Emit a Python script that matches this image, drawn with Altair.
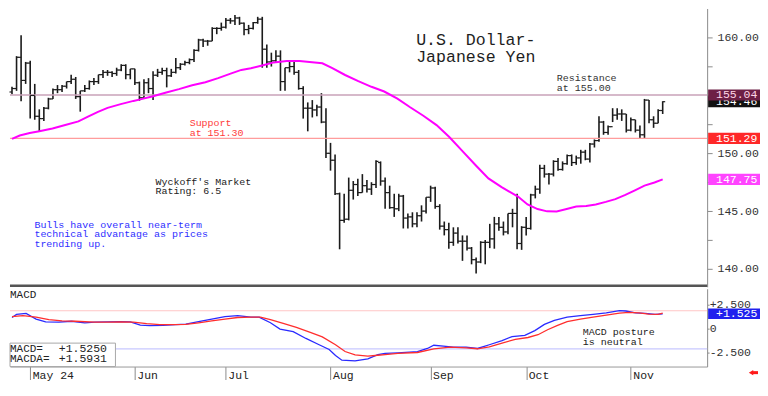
import altair as alt
import pandas as pd

# ---------------- data ----------------
# daily bars, one per trading day (index 0 = Apr 25, 2024 ... 143 = Nov 12, 2024)
opens = [155.3, 155.6, 158.3, 156.3, 157.8, 155.0, 153.2, 153.0, 153.9, 154.7,
         155.5, 155.5, 155.8, 156.2, 156.4, 154.9, 155.4, 155.6, 156.2, 156.2,
         156.8, 157.0, 157.0, 156.9, 157.2, 157.6, 156.8, 157.3, 156.1, 154.8,
         156.1, 155.6, 156.75, 157.0, 157.15, 156.7, 157.0, 157.4, 157.7, 157.85,
         158.1, 158.9, 159.8, 159.7, 159.7, 160.8, 160.8, 160.9, 161.5, 161.45,
         161.7, 161.25, 160.7, 160.8, 161.3, 161.6, 159.0, 157.9, 158.0, 158.4,
         156.2, 157.4, 157.5, 157.0, 155.6, 153.9, 153.9, 153.75, 154.0, 152.7,
         150.0, 149.4, 146.5, 144.2, 144.3, 146.8, 147.3, 146.6, 147.2, 146.9,
         147.3, 149.2, 147.6, 146.6, 145.3, 145.2, 146.3, 144.4, 144.5, 143.9,
         144.6, 145.0, 146.2, 147.0, 145.4, 143.7, 143.4, 142.3, 143.1, 142.4,
         142.4, 141.8, 140.8, 140.6, 142.3, 142.3, 142.6, 143.9, 143.6, 143.2,
         144.8, 144.8, 142.2, 143.6, 143.5, 146.4, 146.9, 148.7, 148.2, 148.2,
         149.3, 148.6, 149.1, 149.8, 149.2, 149.6, 150.1, 149.5, 150.8, 151.1,
         152.7, 151.8, 152.3, 153.3, 153.4, 153.4, 152.0, 152.9, 152.0, 151.6,
         154.6, 152.9, 152.6, 153.7]
highs = [155.75, 158.4, 160.2, 157.9, 158.0, 156.0, 153.8, 154.0, 154.8, 155.6,
         155.9, 155.9, 156.2, 156.8, 156.6, 155.4, 155.9, 156.3, 156.5, 156.8,
         157.2, 157.2, 157.1, 157.4, 157.7, 157.7, 157.3, 157.3, 156.2, 156.4,
         156.5, 157.1, 157.3, 157.4, 157.4, 157.3, 158.25, 157.8, 158.0, 158.2,
         159.0, 159.9, 159.9, 159.8, 160.9, 160.9, 161.3, 161.7, 161.7, 161.95,
         161.8, 161.3, 161.1, 161.35, 161.8, 161.8, 159.4, 158.7, 158.9, 158.9,
         157.4, 157.9, 157.9, 157.2, 155.8, 154.4, 154.6, 154.2, 155.2, 153.9,
         150.9, 149.9, 146.6, 146.5, 147.9, 147.6, 147.8, 148.2, 147.7, 147.5,
         149.4, 149.3, 147.9, 147.2, 146.5, 146.5, 146.4, 144.8, 144.9, 144.9,
         145.5, 146.2, 147.2, 147.1, 145.6, 144.1, 144.0, 143.6, 143.6, 142.9,
         142.9, 141.9, 141.0, 142.4, 142.5, 143.9, 144.5, 144.5, 144.1, 144.8,
         145.2, 146.5, 143.7, 144.5, 146.5, 147.2, 149.0, 149.0, 148.3, 149.4,
         149.6, 149.3, 149.9, 149.9, 149.8, 150.3, 150.3, 150.9, 151.2, 153.2,
         152.8, 152.4, 153.9, 153.9, 153.8, 153.4, 153.1, 152.9, 152.4, 154.7,
         154.6, 153.2, 153.8, 154.5]
lows = [155.1, 155.4, 154.5, 156.0, 153.0, 152.9, 151.9, 152.8, 153.8, 154.7,
        155.2, 155.3, 155.6, 156.0, 154.7, 153.6, 155.3, 155.5, 155.9, 156.0,
        156.5, 156.7, 156.6, 156.7, 157.1, 156.4, 156.4, 155.9, 154.55, 154.8,
        155.2, 154.6, 156.6, 156.8, 155.7, 156.6, 156.9, 157.2, 157.6, 157.7,
        157.9, 158.8, 159.2, 159.3, 159.7, 160.3, 160.6, 160.8, 161.2, 161.1,
        161.1, 160.2, 160.3, 160.7, 161.2, 157.4, 157.4, 157.5, 157.9, 155.4,
        155.4, 157.0, 156.8, 155.5, 153.0, 151.9, 153.1, 153.2, 152.6, 149.6,
        148.5, 146.4, 141.7, 144.0, 144.2, 146.0, 146.3, 146.6, 146.6, 146.4,
        147.0, 147.2, 145.2, 145.2, 144.5, 145.0, 143.5, 143.5, 143.6, 143.6,
        144.1, 144.8, 145.8, 145.2, 143.4, 142.9, 141.75, 142.0, 142.2, 140.7,
        141.6, 140.4, 139.6, 140.5, 140.4, 141.8, 141.75, 143.3, 142.9, 143.0,
        143.6, 141.7, 141.65, 142.9, 143.4, 146.1, 146.5, 147.9, 147.3, 148.0,
        148.5, 148.5, 149.0, 148.9, 149.0, 149.1, 149.4, 149.2, 150.5, 151.0,
        151.6, 151.6, 152.7, 152.9, 152.8, 151.8, 151.9, 151.8, 151.3, 151.3,
        152.6, 152.2, 152.6, 153.4]
closes = [155.6, 158.3, 156.3, 157.8, 155.0, 153.2, 153.0, 153.9, 154.7, 155.5,
          155.5, 155.8, 156.2, 156.4, 154.9, 155.4, 155.6, 156.2, 156.2, 156.8,
          157.0, 157.0, 156.9, 157.2, 157.6, 156.8, 157.3, 156.1, 154.8, 156.1,
          155.6, 156.75, 157.0, 157.15, 156.7, 157.0, 157.4, 157.7, 157.85, 158.1,
          158.9, 159.8, 159.7, 159.7, 160.8, 160.8, 160.9, 161.5, 161.45, 161.7,
          161.25, 160.7, 160.8, 161.3, 161.6, 159.0, 157.9, 158.0, 158.4, 156.2,
          157.4, 157.5, 157.0, 155.6, 153.9, 153.9, 153.75, 154.0, 152.7, 150.0,
          149.4, 146.5, 144.2, 144.3, 146.8, 147.3, 146.6, 147.2, 146.9, 147.3,
          149.3, 147.6, 146.6, 145.3, 145.2, 146.3, 144.4, 144.5, 143.9, 144.6,
          145.0, 146.2, 147.0, 145.4, 143.7, 143.4, 142.3, 143.1, 142.4, 142.4,
          141.8, 140.8, 140.6, 142.3, 142.3, 142.6, 143.9, 143.6, 143.2, 144.8,
          144.8, 142.2, 143.6, 143.5, 146.4, 146.9, 148.7, 148.2, 148.2, 149.3,
          148.6, 149.1, 149.8, 149.2, 149.6, 150.1, 149.5, 150.8, 151.1, 152.7,
          151.8, 152.3, 153.3, 153.4, 153.4, 152.0, 152.9, 152.0, 151.6, 154.6,
          152.9, 152.6, 153.7, 154.46]

# moving average (magenta), read at points along the curve
ma_idx = [0, 1.7, 3.9, 6.0, 8.9, 11.7, 14.6, 16.7, 18.9, 21.0, 23.9, 26.7, 28.2, 31.0,
          33.9, 36.7, 39.6, 42.5, 45.3, 48.2, 50.4, 52.5, 55.4, 57.5, 60.4, 63.2, 65.4,
          68.2, 70.4, 73.2, 76.1, 79.0, 81.8, 84.7, 87.5, 90.4, 93.3, 96.1, 99.0, 101.9,
          104.7, 107.6, 109.0, 111.2, 113.3, 115.5, 117.6, 119.7, 121.9, 124.0, 126.2,
          128.3, 130.5, 132.6, 134.8, 136.9, 139.0, 141.2, 143.0]
ma_val = [151.25, 151.54, 151.76, 151.9, 152.14, 152.44, 152.76, 153.17, 153.58, 153.93,
          154.25, 154.53, 154.66, 154.93, 155.26, 155.55, 155.88, 156.15, 156.5, 156.91,
          157.21, 157.35, 157.64, 157.86, 157.97, 157.97, 157.9, 157.78, 157.37, 156.77,
          156.24, 155.75, 155.34, 154.72, 153.98, 153.25, 152.44, 151.41, 150.19, 148.97,
          147.83, 147.07, 146.75, 146.26, 145.58, 145.18, 144.98, 144.96, 145.18, 145.39,
          145.45, 145.58, 145.8, 146.04, 146.4, 146.8, 147.21, 147.48, 147.75]

# MACD (blue) and MACDA / signal (red)
macd_idx = [0, 1.0, 3.1, 5.3, 7.4, 10.3, 13.1, 16.0, 18.2, 21.0, 23.9, 26.0, 28.2, 30.3,
            33.2, 36.0, 38.2, 41.0, 43.9, 46.8, 49.6, 52.5, 54.3, 56.8, 58.9, 61.8, 64.6,
            67.5, 69.7, 71.1, 72.5, 75.4, 78.2, 80.4, 82.0, 84.8, 89.1, 91.3, 92.7, 94.8,
            97.0, 99.8, 102.3, 104.9, 107.7, 109.9, 112.7, 114.9, 117.0, 119.2, 122.0,
            124.9, 127.7, 130.6, 133.5, 134.9, 137.0, 139.2, 141.3, 143.0]
macd_val = [1.14, 1.47, 1.57, 0.98, 0.69, 0.65, 0.75, 0.59, 0.65, 0.69, 0.72, 0.69, 0.35,
            0.29, 0.32, 0.39, 0.45, 0.72, 0.98, 1.24, 1.33, 1.18, 1.18, 0.59, -0.07, -0.33,
            -1.05, -1.71, -2.2, -2.84, -3.33, -3.4, -3.18, -2.75, -2.62, -2.55, -2.42, -2.1,
            -1.76, -1.86, -1.96, -1.96, -2.1, -1.71, -1.27, -0.85, -0.72, -0.23, 0.42, 0.85,
            1.18, 1.33, 1.47, 1.63, 1.86, 1.82, 1.63, 1.57, 1.47, 1.525]
sig_idx = [0, 2.4, 5.3, 8.1, 11.0, 13.9, 18.2, 21.0, 23.9, 26.7, 29.6, 32.5, 35.3, 38.2,
           41.0, 43.9, 46.8, 49.6, 52.5, 54.6, 56.8, 59.6, 62.5, 65.4, 68.2, 71.1, 73.2,
           75.4, 78.2, 80.4, 82.0, 84.8, 89.1, 92.7, 96.3, 99.8, 102.3, 104.9, 107.7, 110.6,
           113.4, 115.6, 117.7, 119.9, 122.0, 124.9, 127.7, 130.6, 133.5, 135.6, 137.8,
           139.9, 142.0, 143.0]
sig_val = [1.24, 1.33, 1.18, 0.91, 0.78, 0.75, 0.65, 0.65, 0.69, 0.65, 0.49, 0.39, 0.39,
           0.42, 0.59, 0.78, 0.98, 1.14, 1.18, 1.18, 0.91, 0.52, 0.1, -0.39, -0.88, -1.71,
           -2.42, -2.78, -2.91, -2.81, -2.75, -2.62, -2.52, -2.13, -1.96, -2.03, -2.13,
           -1.93, -1.54, -1.15, -0.95, -0.66, -0.14, 0.32, 0.72, 0.98, 1.18, 1.4, 1.6,
           1.67, 1.63, 1.5, 1.47, 1.593]

month_idx = [4, 27, 47, 70, 92, 113, 136]
month_labels = ["May 24", "Jun", "Jul", "Aug", "Sep", "Oct", "Nov"]

price_ticks = [140, 142.5, 145, 147.5, 150, 152.5, 155, 157.5, 160]
macd_ticks = [-2.5, 0, 2.5]

resistance = 155.04
support = 151.29
last_close = 154.46
ma_last = 147.75
macd_last = 1.525
macd_legend = 1.5250
macda_legend = 1.5931
macd_upper = 1.85
macd_lower = -2.15

# ---------------- layout / style ----------------
W, H1, H2 = 699, 279, 78
SX = W / 714.0          # reference px -> plot px (horizontal)
SY = H1 / 296.0         # reference px -> main plot px
SM = H2 / 83.0          # reference px -> macd plot px
MONO = "Liberation Mono"
one = pd.DataFrame({"a": [0]})

x_scale = alt.Scale(domain=[-0.44, 152.77], nice=False, zero=False)
y_scale = alt.Scale(domain=[138.46, 162.52], nice=False, zero=False)
m_scale = alt.Scale(domain=[-3.99, 4.15], nice=False, zero=False)

bars = pd.DataFrame({"i": list(range(len(closes))), "o": opens, "h": highs,
                     "l": lows, "c": closes})

y_axis_main = alt.Axis(orient="right", values=price_ticks,
                       labelExpr="datum.value % 5 == 0 ? format(datum.value, '.2f') : ''",
                       title=None, grid=False, domainColor="#8c8c8c", tickColor="#8c8c8c",
                       tickSize=5, labelPadding=5, labelFont=MONO, labelFontSize=11.5,
                       labelColor="#333333", labelOverlap=False, labelFlush=False)

X = alt.X("i:Q", scale=x_scale, axis=None)
BAR = "#1b1b1b"


def YM(field):
    return alt.Y(field, scale=y_scale, axis=y_axis_main)


hl = alt.Chart(bars).mark_rule(color=BAR, strokeWidth=1.6).encode(
    x=X, y=YM("l:Q"), y2="h:Q")
op = alt.Chart(bars).mark_rule(color=BAR, strokeWidth=1.2, xOffset=-2.5).encode(
    x=X, x2="i:Q", y=YM("o:Q"))
cl = alt.Chart(bars).mark_rule(color=BAR, strokeWidth=1.2, x2Offset=2.5).encode(
    x=X, x2="i:Q", y=YM("c:Q"))

ma = alt.Chart(pd.DataFrame({"i": ma_idx, "v": ma_val})).mark_line(
    color="#ff00ff", strokeWidth=2).encode(x=X, y=YM("v:Q"))


def level_rule(val, color, width, scale, axis):
    return alt.Chart(pd.DataFrame({"v": [val]})).mark_rule(color=color, strokeWidth=width).encode(
        y=alt.Y("v:Q", scale=scale, axis=axis))


def value_box(val, fill, txtcolor, scale, axis, fmt, half=5.6):
    d = pd.DataFrame({"v": [val]})
    box = alt.Chart(d).mark_rect(color=fill, yOffset=-half, y2Offset=half).encode(
        x=alt.value(W + 1), x2=alt.value(W + 53),
        y=alt.Y("v:Q", scale=scale, axis=axis), y2="v:Q")
    txt = alt.Chart(d).mark_text(align="left", baseline="middle", font=MONO, fontSize=11.5,
                                 color=txtcolor, dy=0.5).encode(
        x=alt.value(W + 9), y=alt.Y("v:Q", scale=scale, axis=axis),
        text=alt.Text("v:Q", format=fmt))
    return box + txt


def note(txt, x, y, color="#222222", size=10.0):
    return alt.Chart(one).mark_text(align="left", baseline="alphabetic", font=MONO,
                                    fontSize=size, color=color).encode(
        x=alt.value(x), y=alt.value(y), text=alt.value(txt))


def mnote(txt, rx, ry, color="#222222", size=10.0):      # main panel, reference px
    return note(txt, rx * SX, ry * SY, color, size)


def bnote(txt, rx, ry, color="#222222", size=10.0):      # macd panel, reference px
    return note(txt, rx * SX, (ry - 297) * SM, color, size)


sep = alt.Chart(one).mark_rule(color="#555555", strokeWidth=2.5).encode(
    x=alt.value(0), x2=alt.value(W), y=alt.value(H1 - 1))

main = alt.layer(
    hl,
    level_rule(resistance, "#c9a2b8", 1.5, y_scale, y_axis_main),
    level_rule(support, "#ff9c9c", 1.5, y_scale, y_axis_main),
    op, cl, ma,
    mnote("U.S. Dollar-", 416, 39, "#1e1e1e", 16.6),
    mnote("Japanese Yen", 416, 56.5, "#1e1e1e", 16.6),
    mnote("Resistance", 560, 77.3, "#333333"),
    mnote("at 155.00", 560, 88, "#333333"),
    mnote("Support", 184, 125, "#ff3b3b"),
    mnote("at 151.30", 184, 136, "#ff3b3b"),
    mnote("Wyckoff's Market", 149, 187.5),
    mnote("Rating: 6.5", 149, 197.7),
    mnote("Bulls have overall near-term", 25, 233, "#2f2fff"),
    mnote("technical advantage as prices", 25, 243.5, "#2f2fff"),
    mnote("trending up.", 25, 253.5, "#2f2fff"),
    value_box(last_close, "#111111", "#ffffff", y_scale, y_axis_main, ".2f"),
    value_box(resistance, "#6d1f45", "#ffd6e6", y_scale, y_axis_main, ".2f"),
    value_box(support, "#ff2828", "#ffffff", y_scale, y_axis_main, ".2f"),
    value_box(ma_last, "#ff44ff", "#ffffff", y_scale, y_axis_main, ".2f"),
    sep,
).properties(width=W, height=H1)

# ---------------- MACD panel ----------------
lab_expr = "[" + ",".join("'%s'" % s for s in month_labels) + "][indexof([" + \
    ",".join(str(v) for v in month_idx) + "], datum.value)]"
x_axis_macd = alt.Axis(values=month_idx, labelExpr=lab_expr, title=None, grid=False,
                       domainColor="#9a9a9a", tickColor="#8c8c8c", tickSize=13,
                       labelPadding=-1, labelAlign="left", labelBaseline="alphabetic",
                       labelOffset=2, labelFont=MONO, labelFontSize=11.5, labelColor="#222222",
                       labelFlush=False, labelOverlap=False)
m_axis = alt.Axis(orient="right", values=macd_ticks,
                  labelExpr="datum.value > 0 ? '+' + format(datum.value, '.3f') : "
                            "(datum.value < 0 ? '-' + format(-datum.value, '.3f') : '0')",
                  title=None, grid=False, domainColor="#8c8c8c", tickColor="#8c8c8c",
                  tickSize=2, labelPadding=0, labelFont=MONO, labelFontSize=11.5,
                  labelColor="#333333", labelOverlap=False, labelFlush=False)

XM = alt.X("i:Q", scale=x_scale, axis=x_axis_macd)


def YB(field):
    return alt.Y(field, scale=m_scale, axis=m_axis)


macd_line = alt.Chart(pd.DataFrame({"i": macd_idx, "v": macd_val})).mark_line(
    color="#2a2aff", strokeWidth=1.3).encode(x=XM, y=YB("v:Q"))
sig_line = alt.Chart(pd.DataFrame({"i": sig_idx, "v": sig_val})).mark_line(
    color="#ff2e2e", strokeWidth=1.3).encode(x=XM, y=YB("v:Q"))

legend_box = alt.Chart(one).mark_rect(fill="#ffffff", stroke="#a8a8a8", strokeWidth=1).encode(
    x=alt.value(0), x2=alt.value(108 * SX), y=alt.value((355 - 297) * SM), y2=alt.value(H2))


def legend_val(val, ry):
    return alt.Chart(pd.DataFrame({"v": [val]})).mark_text(
        align="left", baseline="alphabetic", font=MONO, fontSize=11.5, color="#222222").encode(
        x=alt.value(50 * SX), y=alt.value((ry - 297) * SM), text=alt.Text("v:Q", format="+.4f"))


arrow_head = alt.Chart(one).mark_point(shape="triangle-left", filled=True, color="#ff1a1a",
                                       size=26, opacity=1).encode(
    x=alt.value(W + 44), y=alt.value((386.5 - 297) * SM))
arrow_tail = alt.Chart(one).mark_rule(color="#ff1a1a", strokeWidth=3).encode(
    x=alt.value(W + 45), x2=alt.value(W + 51), y=alt.value((386.5 - 297) * SM))

macd = alt.layer(
    level_rule(macd_upper, "#ffc6c6", 1.2, m_scale, m_axis),
    level_rule(macd_lower, "#c8c8ff", 1.2, m_scale, m_axis),
    macd_line, sig_line,
    legend_box,
    bnote("MACD=", 0, 365, "#222222", 11),
    bnote("MACDA=", 0, 375.6, "#222222", 11),
    legend_val(macd_legend, 365),
    legend_val(macda_legend, 375.6),
    bnote("MACD", 0, 307, "#222222", 11),
    bnote("MACD posture", 586.7, 346.7),
    bnote("is neutral", 586.7, 356.7),
    value_box(macd_last, "#2020ee", "#ffffff", m_scale, m_axis, "+.3f", half=5.3),
    arrow_head, arrow_tail,
).properties(width=W, height=H2)

chart = alt.vconcat(main, macd, spacing=1).properties(
    padding=0, background="white").configure_view(stroke=None)

chart.save("out.html", embed_options={"renderer": "svg", "actions": False})
